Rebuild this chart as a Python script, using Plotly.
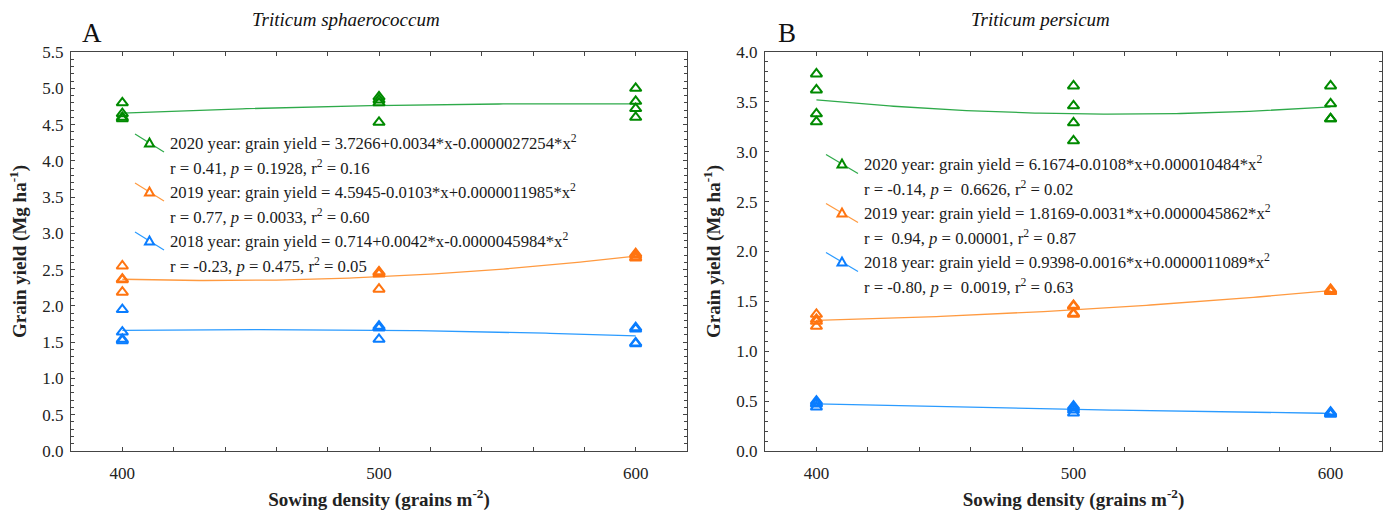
import numpy as np
import plotly.graph_objects as go

W, H = 1392, 518
ML, MR, MT, MB = 0, 0, 52, 67

# ---------------- data ----------------
sowing = [400, 400, 400, 400, 500, 500, 500, 500, 600, 600, 600, 600]
years = ["2020", "2019", "2018"]

# Panel A: Triticum sphaerococcum (grain yield, Mg/ha)
a_2020 = [4.80, 4.65, 4.60, 4.58, 4.88, 4.84, 4.80, 4.53, 5.00, 4.82, 4.72, 4.60]
a_2019 = [2.55, 2.37, 2.36, 2.19, 2.47, 2.46, 2.44, 2.23, 2.72, 2.70, 2.67, 2.66]
a_2018 = [1.95, 1.64, 1.54, 1.52, 1.72, 1.70, 1.70, 1.54, 1.70, 1.68, 1.49, 1.48]

# Panel B: Triticum persicum
b_2020 = [3.78, 3.62, 3.38, 3.30, 3.66, 3.46, 3.29, 3.11, 3.66, 3.48, 3.33, 3.33]
b_2019 = [1.37, 1.32, 1.30, 1.25, 1.46, 1.45, 1.38, 1.37, 1.62, 1.61, 1.60, 1.60]
b_2018 = [0.50, 0.48, 0.47, 0.44, 0.45, 0.43, 0.41, 0.38, 0.39, 0.38, 0.37, 0.37]

a_legend = [
    "2020 year: grain yield = 3.7266+0.0034*x-0.0000027254*x<sup>2</sup>",
    "r = 0.41, <i>p</i> = 0.1928, r<sup>2</sup> = 0.16",
    "2019 year: grain yield = 4.5945-0.0103*x+0.0000011985*x<sup>2</sup>",
    "r = 0.77, <i>p</i> = 0.0033, r<sup>2</sup> = 0.60",
    "2018 year: grain yield = 0.714+0.0042*x-0.0000045984*x<sup>2</sup>",
    "r = -0.23, <i>p</i> = 0.475, r<sup>2</sup> = 0.05",
]
b_legend = [
    "2020 year: grain yield = 6.1674-0.0108*x+0.000010484*x<sup>2</sup>",
    "r = -0.14, <i>p</i> =  0.6626, r<sup>2</sup> = 0.02",
    "2019 year: grain yield = 1.8169-0.0031*x+0.0000045862*x<sup>2</sup>",
    "r =  0.94, <i>p</i> = 0.00001, r<sup>2</sup> = 0.87",
    "2018 year: grain yield = 0.9398-0.0016*x+0.0000011089*x<sup>2</sup>",
    "r = -0.80, <i>p</i> =  0.0019, r<sup>2</sup> = 0.63",
]

a_yticks = [0.0, 0.5, 1.0, 1.5, 2.0, 2.5, 3.0, 3.5, 4.0, 4.5, 5.0, 5.5]
b_yticks = [0.0, 0.5, 1.0, 1.5, 2.0, 2.5, 3.0, 3.5, 4.0]
x_ticks = [400, 500, 600]

marker_colors = {"2020": "#008a00", "2019": "#ff7410", "2018": "#0a7dff"}
line_colors = {"2020": "#2eaa4a", "2019": "#ff9a40", "2018": "#2b9bff"}

FONT = "Liberation Serif"

# ---------------- helpers ----------------
def px(x):
    return x / W

def py(y):
    return (H - MB - y) / (H - MT - MB)

fig = go.Figure()

panels = [
    ("x", "y", [a_2020, a_2019, a_2018]),
    ("x2", "y2", [b_2020, b_2019, b_2018]),
]
xs = np.linspace(min(sowing), max(sowing), 121)
for xa, ya, series in panels:
    for yr, vals in zip(years, series):
        coef = np.polyfit(sowing, vals, 2)
        fig.add_trace(go.Scatter(
            x=xs, y=np.polyval(coef, xs), mode="lines", xaxis=xa, yaxis=ya,
            line=dict(color=line_colors[yr], width=1.3), showlegend=False,
            hoverinfo="skip"))
        fig.add_trace(go.Scatter(
            x=sowing, y=vals, mode="markers", xaxis=xa, yaxis=ya,
            marker=dict(symbol="triangle-up-open", size=10, color=marker_colors[yr],
                        line=dict(width=2, color=marker_colors[yr])),
            showlegend=False, name=yr))

axis_common = dict(
    showline=True, linecolor="#444", linewidth=1, mirror="ticks",
    ticks="inside", ticklen=4, tickcolor="#444", showgrid=False, zeroline=False,
    automargin=False,
    tickfont=dict(family=FONT, size=17, color="#222"),
)
xaxis_common = dict(axis_common, range=[380, 620], tickvals=x_ticks,
                    minor=dict(dtick=20, tick0=400, ticks="inside", ticklen=4, tickcolor="#444"),
                    ticklabelstandoff=7,
                    title=dict(text="<b>Sowing density (grains m<sup>-2</sup>)</b>",
                               font=dict(family=FONT, size=19, color="#222"), standoff=10))

def yaxis_common(rng, ticks):
    return dict(axis_common, range=rng, tickvals=ticks, tickformat=".1f",
                minor=dict(dtick=0.1, tick0=0, ticks="inside", ticklen=3, tickcolor="#444"),
                ticklabelstandoff=3,
                title=dict(text="<b>Grain yield (Mg ha<sup>-1</sup>)</b>",
                           font=dict(family=FONT, size=19, color="#222"), standoff=10))

fig.update_layout(
    width=W, height=H, paper_bgcolor="white", plot_bgcolor="white",
    margin=dict(l=ML, r=MR, t=MT, b=MB),
    xaxis=dict(xaxis_common, domain=[px(71), px(687)], anchor="y"),
    yaxis=dict(yaxis_common([0, 5.5], a_yticks), domain=[0, 1], anchor="x"),
    xaxis2=dict(xaxis_common, domain=[px(765), px(1382)], anchor="y2"),
    yaxis2=dict(yaxis_common([0, 4.0], b_yticks), domain=[0, 1], anchor="x2"),
    showlegend=False,
)

annotations = []
shapes = []

# panel letters and titles
for letter, lx, title, tx in [("A", 92, "Triticum sphaerococcum", 346),
                              ("B", 787, "Triticum persicum", 1040)]:
    annotations.append(dict(text=letter, x=px(lx), y=py(33), xref="paper", yref="paper",
                            showarrow=False, font=dict(family=FONT, size=27, color="#111"),
                            xanchor="center", yanchor="middle"))
    annotations.append(dict(text="<i>" + title + "</i>", x=px(tx), y=py(19), xref="paper",
                            yref="paper", showarrow=False,
                            font=dict(family=FONT, size=19, color="#111"),
                            xanchor="center", yanchor="middle"))

# in-plot regression legends
def add_legend(texts, text_x, line_ys, sym_x0, sym_x1, sym_dy):
    for i, t in enumerate(texts):
        annotations.append(dict(text=t, x=px(text_x), y=py(line_ys[i]), xref="paper",
                                yref="paper", showarrow=False, xanchor="left",
                                yanchor="middle",
                                font=dict(family=FONT, size=16.7, color="#1a1a1a")))
    for k, yr in enumerate(years):
        yc = line_ys[2 * k] + 1
        shapes.append(dict(type="line", xref="paper", yref="paper",
                           x0=px(sym_x0), x1=px(sym_x1),
                           y0=py(yc - sym_dy), y1=py(yc + sym_dy),
                           line=dict(color=line_colors[yr], width=1.2)))
        cx = (sym_x0 + sym_x1) / 2
        s = 4.5
        path = "M {} {} L {} {} L {} {} Z".format(
            px(cx), py(yc - s),
            px(cx - s), py(yc + s * 0.8),
            px(cx + s), py(yc + s * 0.8))
        shapes.append(dict(type="path", xref="paper", yref="paper", path=path,
                           fillcolor="white",
                           line=dict(color=marker_colors[yr], width=2)))

add_legend(a_legend, 168, [142, 167, 191, 216, 240, 265], 135, 164, 9)
add_legend(b_legend, 862, [163, 188, 212, 237, 261, 286], 826, 858, 9.5)

fig.update_layout(annotations=annotations, shapes=shapes)
fig.write_html("out.html", config={"displayModeBar": False},
               post_script="document.body.style.margin='0';document.body.style.padding='0';")
